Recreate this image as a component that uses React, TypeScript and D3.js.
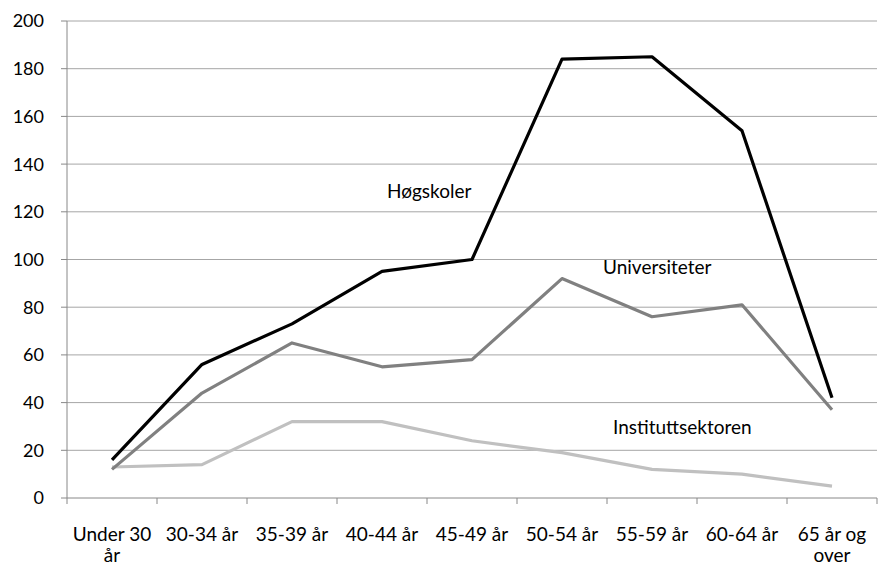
import React from "react";
import * as d3 from "d3";

const categories = ["Under 30 år", "30-34 år", "35-39 år", "40-44 år", "45-49 år", "50-54 år", "55-59 år", "60-64 år", "65 år og over"];
const categoryLines = [["Under 30", "år"], ["30-34 år"], ["35-39 år"], ["40-44 år"], ["45-49 år"], ["50-54 år"], ["55-59 år"], ["60-64 år"], ["65 år og", "over"]];
const hogskoler = [16, 56, 73, 95, 100, 184, 185, 154, 42];
const universiteter = [12, 44, 65, 55, 58, 92, 76, 81, 37];
const instituttsektoren = [13, 14, 32, 32, 24, 19, 12, 10, 5];
const yTicks = [0, 20, 40, 60, 80, 100, 120, 140, 160, 180, 200];

const series = [
  { name: "Instituttsektoren", values: instituttsektoren, color: "#c0c0c0", lx: 613, ly: 434 },
  { name: "Universiteter", values: universiteter, color: "#808080", lx: 603, ly: 274 },
  { name: "Høgskoler", values: hogskoler, color: "#000000", lx: 387, ly: 198 },
];

export default function App() {
  const W = 879, H = 567;
  const left = 67, right = 877, top = 21, bottom = 498;
  const x = d3.scaleBand<string>().domain(categories).range([left, right]);
  const y = d3.scaleLinear().domain([0, 200]).range([bottom, top]);
  const line = d3.line<number>().x((_, i) => x(categories[i])! + x.bandwidth() / 2).y((d) => y(d));
  const font = "Lato, 'Liberation Sans', sans-serif";
  return (
    <svg width={W} height={H} style={{ position: "absolute", left: 0, top: 0 }} fontFamily={font}>
      <rect width={W} height={H} fill="#fff" />
      {yTicks.map((t) => (
        <g key={t}>
          {t > 0 && <line x1={left} x2={right} y1={y(t)} y2={y(t)} stroke="#a6a6a6" strokeWidth={1} />}
          <line x1={left - 6} x2={left} y1={y(t)} y2={y(t)} stroke="#888" strokeWidth={1} />
          <text x={44} y={y(t)} dy="0.36em" textAnchor="end" fontSize={18} fill="#000">{t}</text>
        </g>
      ))}
      <line x1={left} x2={left} y1={top} y2={bottom} stroke="#888" strokeWidth={1} />
      <line x1={left} x2={right} y1={bottom} y2={bottom} stroke="#888" strokeWidth={1} />
      {categories.map((c) => (
        <line key={"t" + c} x1={x(c)!} x2={x(c)!} y1={bottom} y2={bottom + 6} stroke="#888" strokeWidth={1} />
      ))}
      <line x1={right} x2={right} y1={bottom} y2={bottom + 6} stroke="#888" strokeWidth={1} />
      {categories.map((c, i) => (
        <text key={"l" + c} x={x(c)! + x.bandwidth() / 2} y={541} textAnchor="middle" fontSize={19} fill="#000">
          {categoryLines[i].map((s, j) => (
            <tspan key={j} x={x(c)! + x.bandwidth() / 2} dy={j === 0 ? 0 : 21}>{s}</tspan>
          ))}
        </text>
      ))}
      {series.map((s) => (
        <path key={s.name} d={line(s.values)!} fill="none" stroke={s.color} strokeWidth={3.2} strokeLinejoin="round" />
      ))}
      {series.map((s) => (
        <text key={"n" + s.name} x={s.lx} y={s.ly} fontSize={19} fill="#000">{s.name}</text>
      ))}
    </svg>
  );
}
